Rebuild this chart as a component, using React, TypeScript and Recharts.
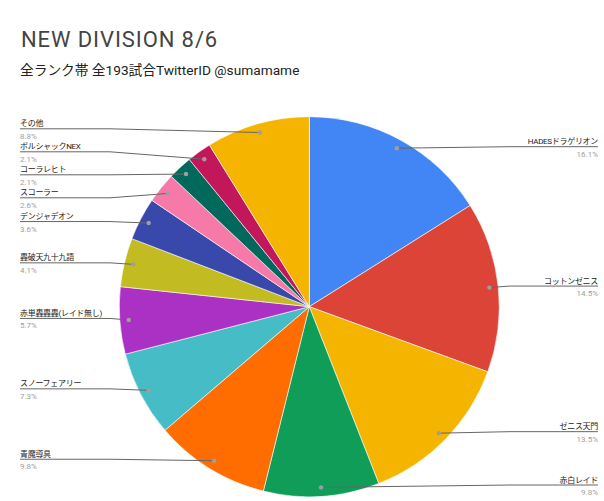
import { PieChart, Pie, Cell } from 'recharts'

const DECKS = [
  'HADESドラゲリオン',
  'コットンゼニス',
  'ゼニス天門',
  '赤白レイド',
  '青魔導具',
  'スノーフェアリー',
  '赤単轟轟轟(レイド無し)',
  '轟破天九十九語',
  'デンジャデオン',
  'スコーラー',
  'コーラレヒト',
  'ボルシャックNEX',
  'その他',
]
// match counts out of 193
const COUNTS = [31, 28, 26, 19, 19, 14, 11, 8, 7, 5, 4, 4, 17]
const PCT_LABELS = ['16.1%', '14.5%', '13.5%', '9.8%', '9.8%', '7.3%', '5.7%', '4.1%', '3.6%', '2.6%', '2.1%', '2.1%', '8.8%']
const COLORS = [
  '#4285f4', '#db4437', '#f4b400', '#0f9d58', '#ff6d00', '#46bdc6', '#ab30c4',
  '#c2bb22', '#3949ab', '#f779a8', '#00695c', '#c2185b', '#f4b400',
]

const W = 604
const H = 501
const CX = 309.3
const CY = 306.7
const R = 190
const GAP = 23
const FONT = "Roboto, 'Noto Sans CJK JP', sans-serif"

const data = DECKS.map((name, i) => ({ name, value: COUNTS[i], pct: PCT_LABELS[i] }))

// label layout: dot y per slice, then push apart labels that crowd on each side
function spread(ys: number[], maxY: number) {
  let clusters = ys.map(y => ({ sum: y, n: 1, top: y }))
  let merged = true
  while (merged) {
    merged = false
    for (let i = 0; i < clusters.length - 1; i++) {
      const a = clusters[i], b = clusters[i + 1]
      if (a.top + a.n * GAP > b.top) {
        const sum = a.sum + b.sum, n = a.n + b.n
        clusters.splice(i, 2, { sum, n, top: sum / n - ((n - 1) * GAP) / 2 })
        merged = true
        break
      }
    }
  }
  const out: number[] = []
  clusters.forEach(c => {
    for (let k = 0; k < c.n; k++) out.push(Math.min(maxY, c.top + k * GAP))
  })
  return out
}

const total = COUNTS.reduce((a, b) => a + b, 0)
const layout = (() => {
  let cum = 0
  const items = COUNTS.map((v, i) => {
    const mid = 90 - ((cum + v / 2) / total) * 360
    cum += v
    const x = CX + R * 0.953 * Math.cos((-mid * Math.PI) / 180)
    const y = CY + R * 0.953 * Math.sin((-mid * Math.PI) / 180)
    return { i, x, y, left: x < CX }
  })
  const res: number[] = []
  ;[true, false].forEach(side => {
    const s = items.filter(it => it.left === side).sort((a, b) => a.y - b.y)
    const ys = spread(s.map(it => it.y - 1.5), 485)
    s.forEach((it, k) => (res[it.i] = ys[k]))
  })
  return res
})()

const renderLabel = (props: any) => {
  const { cx, cy, midAngle, outerRadius, index } = props
  const rad = (-midAngle * Math.PI) / 180
  const r = outerRadius * 0.953
  const dx = cx + r * Math.cos(rad)
  const dy = cy + r * Math.sin(rad)
  const left = dx < cx
  const ly = layout[index]
  const edge = left ? 20 : 598
  const elbow = left ? 110 : 510
  const d = data[index]
  return (
    <g key={`lbl-${index}`}>
      <polyline
        points={`${edge},${ly} ${elbow},${ly} ${dx},${dy}`}
        fill="none"
        stroke="#666"
        strokeWidth={1}
      />
      <circle cx={dx} cy={dy} r={2.2} fill="#9e9e9e" />
      <text
        x={edge}
        y={ly - 2.5}
        textAnchor={left ? 'start' : 'end'}
        fontSize={8}
        letterSpacing={-0.3}
        fill="#222"
        fontFamily={FONT}
      >
        {d.name}
      </text>
      <text x={edge} y={ly + 10} textAnchor={left ? 'start' : 'end'} fontSize={8} fill="#9e9e9e" fontFamily={FONT}>
        {d.pct}
      </text>
    </g>
  )
}

export default function App() {
  return (
    <div style={{ position: 'absolute', left: 0, top: 0, width: W, height: H, background: '#fff' }}>
      <PieChart width={W} height={H} margin={{ top: 0, right: 0, bottom: 0, left: 0 }}>
        <Pie
          data={data}
          dataKey="value"
          nameKey="name"
          cx={CX}
          cy={CY}
          outerRadius={R}
          startAngle={90}
          endAngle={-270}
          stroke="#ffffff"
          strokeWidth={0.6}
          label={renderLabel}
          labelLine={false}
          isAnimationActive={false}
        >
          {data.map((d, i) => (
            <Cell key={d.name} fill={COLORS[i]} />
          ))}
        </Pie>
      </PieChart>
      <svg width={W} height={90} style={{ position: 'absolute', left: 0, top: 0, pointerEvents: 'none' }}>
        <text x={21} y={47} fontSize={22} letterSpacing={0.9} fill="#444" fontFamily={FONT}>
          NEW DIVISION 8/6
        </text>
        <text x={20} y={75} fontSize={13.7} fill="#222" fontFamily={FONT}>
          全ランク帯 全193試合TwitterID @sumamame
        </text>
      </svg>
    </div>
  )
}
